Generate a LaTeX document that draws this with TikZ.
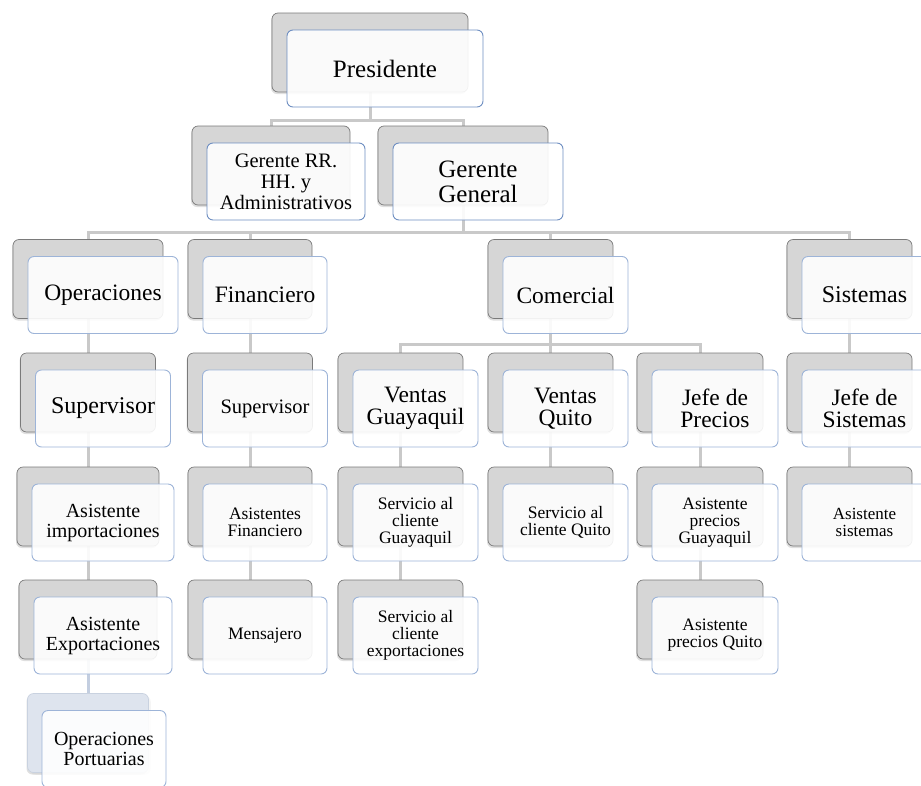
\documentclass[tikz,border=0pt]{standalone}
\usepackage{fontspec}
\setmainfont{Liberation Serif}
\usetikzlibrary{backgrounds,shadows}

\definecolor{boxgray}{HTML}{D6D6D6}
\definecolor{boxedge}{HTML}{7A7A7A}
\definecolor{frameblue}{HTML}{9DB4D8}
\definecolor{framedark}{HTML}{6F8FC2}
\definecolor{linegray}{HTML}{C9C9C9}
\definecolor{paleback}{HTML}{DEE4EE}
\definecolor{paleedge}{HTML}{C9D2E0}
\definecolor{paleline}{HTML}{C3CEE0}

\newcommand\fs[2]{\fontsize{#1}{#2}\selectfont}

\tikzset{
  back/.style={draw=boxedge, fill=boxgray, rounded corners=6pt, minimum height=79pt,
    line width=0.7pt, inner sep=0pt,
    drop shadow={opacity=0.25, shadow xshift=-1pt, shadow yshift=-2pt}},
  front/.style={draw=frameblue, fill=white, fill opacity=0.9, text opacity=1,
    rounded corners=6pt, minimum height=77pt, align=center, inner sep=1pt,
    line width=0.9pt},
  conn/.style={draw=linegray, line width=3pt},
}

% one chart entry: grey card behind, white card with the title in front
% #1 extra front options, #2 name, #3 cx, #4 cy, #5 width, #6 font, #7 title
\newcommand\orgunit[7][]{%
  \node[back, minimum width=#5pt] (#2B) at (#3,#4) {};
  \node[front, minimum width=#5pt, font={#6}, #1] (#2) at (#3+15,#4+16) {#7};
}

\begin{document}
\begin{tikzpicture}[x=1pt, y=-1pt]
\useasboundingbox (0,0) rectangle (921,785);
\clip (0,0) rectangle (921,785);

% top levels
\orgunit[draw=framedark]{pres}{370}{52.5}{196}{\fs{25}{25}}{Presidente}
\orgunit[draw=framedark]{rrhh}{271}{165.5}{158}{\fs{20.5}{21}}{Gerente RR.\\ HH. y\\ Administrativos}
\orgunit[draw=framedark]{gg}{463}{165.5}{170}{\fs{25}{25}}{Gerente\\ General}

% departments
\orgunit{oper}{88}{279}{150}{\fs{23.5}{23.5}}{Operaciones}
\orgunit{fin}{250}{279}{124}{\fs{23.5}{23.5}}{Financiero}
\orgunit{com}{550.5}{279}{125}{\fs{23.5}{23.5}}{Comercial}
\orgunit{sis}{849.5}{279}{125}{\fs{24}{24}}{Sistemas}

% second line of command
\orgunit{supO}{88}{392.5}{135}{\fs{24}{24}}{Supervisor}
\orgunit{supF}{250}{392.5}{125}{\fs{20.5}{20.5}}{Supervisor}
\orgunit{vgye}{400.5}{392.5}{125}{\fs{23.5}{22}}{Ventas\\ Guayaquil}
\orgunit{vuio}{550.5}{392.5}{125}{\fs{23.5}{22}}{Ventas\\ Quito}
\orgunit{jpre}{700}{392.5}{126}{\fs{23.5}{22}}{Jefe de\\ Precios}
\orgunit{jsis}{849.5}{392.5}{125}{\fs{23.5}{22}}{Jefe de\\ Sistemas}

% assistants
\orgunit{aimp}{88}{506.5}{142}{\fs{20}{20}}{Asistente\\ importaciones}
\orgunit{afin}{250}{506.5}{124}{\fs{17.5}{17}}{Asistentes\\ Financiero}
\orgunit{scgye}{400.5}{506.5}{125}{\fs{17.5}{17}}{Servicio al\\ cliente\\ Guayaquil}
\orgunit{scuio}{550.5}{506.5}{125}{\fs{17.5}{17}}{Servicio al\\ cliente Quito}
\orgunit{apgye}{700}{506.5}{126}{\fs{17.5}{17}}{Asistente\\ precios\\ Guayaquil}
\orgunit{asis}{849.5}{506.5}{125}{\fs{17}{17}}{Asistente\\ sistemas}

\orgunit{aexp}{88}{619.5}{138}{\fs{20}{20}}{Asistente\\ Exportaciones}
\orgunit{mens}{250}{619.5}{124}{\fs{17.5}{17.5}}{Mensajero}
\orgunit{scexp}{400.5}{619.5}{125}{\fs{17.5}{17}}{Servicio al\\ cliente\\ exportaciones}
\orgunit{apuio}{700}{619.5}{126}{\fs{17.5}{17}}{Asistente\\ precios Quito}

% port operations: paler card
\node[back, draw=paleedge, fill=paleback, drop shadow={opacity=0.08}, minimum width=121pt]
  (oportB) at (88,733) {};
\node[front, minimum width=124pt, font={\fs{20}{20}}] (oport) at (104,749) {Operaciones\\ Portuarias};

% connectors behind the cards
\begin{pgfonlayer}{background}
  \coordinate (busP) at (0,120);
  \coordinate (busG) at (0,232);
  \coordinate (busC) at (0,344);

  \draw[conn] (presB.center) -- (presB.center |- busP) -| (rrhhB.center);
  \draw[conn] (presB.center) -- (presB.center |- busP) -| (ggB.center);

  \draw[conn] (ggB.center) -- (ggB.center |- busG) -| (operB.center);
  \draw[conn] (ggB.center) -- (ggB.center |- busG) -| (finB.center);
  \draw[conn] (ggB.center) -- (ggB.center |- busG) -| (comB.center);
  \draw[conn] (ggB.center) -- (ggB.center |- busG) -| (sisB.center);

  \draw[conn] (comB.center) -- (comB.center |- busC) -| (vgyeB.center);
  \draw[conn] (comB.center) -- (comB.center |- busC) -| (vuioB.center);
  \draw[conn] (comB.center) -- (comB.center |- busC) -| (jpreB.center);

  \draw[conn] (operB.center) -- (supOB.center);
  \draw[conn] (supOB.center) -- (aimpB.center);
  \draw[conn] (aimpB.center) -- (aexpB.center);
  \draw[conn, draw=paleline] (aexpB.center) -- (oportB.center);

  \draw[conn] (finB.center) -- (supFB.center);
  \draw[conn] (supFB.center) -- (afinB.center);
  \draw[conn] (afinB.center) -- (mensB.center);

  \draw[conn] (vgyeB.center) -- (scgyeB.center);
  \draw[conn] (scgyeB.center) -- (scexpB.center);
  \draw[conn] (vuioB.center) -- (scuioB.center);
  \draw[conn] (jpreB.center) -- (apgyeB.center);
  \draw[conn] (apgyeB.center) -- (apuioB.center);

  \draw[conn] (sisB.center) -- (jsisB.center);
  \draw[conn] (jsisB.center) -- (asisB.center);
\end{pgfonlayer}
\end{tikzpicture}
\end{document}
